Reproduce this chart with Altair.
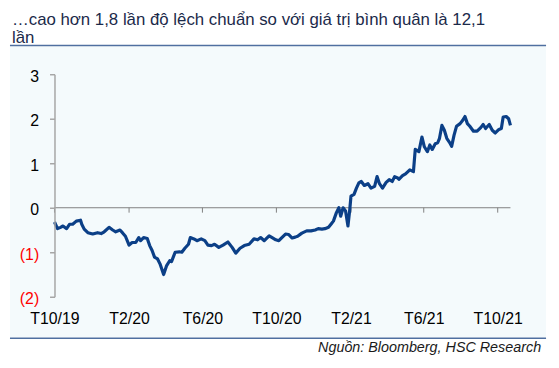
import altair as alt
import pandas as pd

# ---------------- data ----------------
dates = [
    "2019-10-01", "2019-10-06", "2019-10-11", "2019-10-15", "2019-10-21", "2019-10-26", "2019-10-31",
    "2019-11-06", "2019-11-13", "2019-11-15", "2019-11-19", "2019-11-25", "2019-12-03", "2019-12-11",
    "2019-12-17", "2019-12-22", "2019-12-30",
    "2020-01-05", "2020-01-10", "2020-01-17", "2020-01-21", "2020-01-26", "2020-02-01", "2020-02-06",
    "2020-02-12", "2020-02-17", "2020-02-20", "2020-02-25", "2020-03-02", "2020-03-06", "2020-03-10",
    "2020-03-14", "2020-03-19", "2020-03-23", "2020-03-29", "2020-04-03", "2020-04-08", "2020-04-11",
    "2020-04-17", "2020-04-24", "2020-04-28", "2020-05-03", "2020-05-09", "2020-05-12", "2020-05-18",
    "2020-05-23", "2020-05-30", "2020-06-05", "2020-06-10", "2020-06-16", "2020-06-21", "2020-06-28",
    "2020-07-05", "2020-07-13", "2020-07-20", "2020-07-26", "2020-08-02", "2020-08-09", "2020-08-17",
    "2020-08-25", "2020-08-31", "2020-09-05", "2020-09-11", "2020-09-19", "2020-09-24", "2020-09-30",
    "2020-10-05", "2020-10-10", "2020-10-16", "2020-10-21", "2020-10-27", "2020-11-01", "2020-11-05",
    "2020-11-12", "2020-11-20", "2020-11-27", "2020-12-04", "2020-12-09", "2020-12-15", "2020-12-20",
    "2020-12-26", "2020-12-30",
    "2021-01-03", "2021-01-08", "2021-01-12", "2021-01-15", "2021-01-19", "2021-01-23", "2021-01-27",
    "2021-01-30", "2021-02-01", "2021-02-06", "2021-02-10", "2021-02-14", "2021-02-18", "2021-02-23",
    "2021-03-01", "2021-03-06", "2021-03-12", "2021-03-16", "2021-03-20", "2021-03-25", "2021-03-31",
    "2021-04-05", "2021-04-10", "2021-04-14", "2021-04-19", "2021-04-21", "2021-04-27", "2021-05-02",
    "2021-05-09", "2021-05-15", "2021-05-18", "2021-05-24", "2021-05-29", "2021-06-02", "2021-06-07",
    "2021-06-11", "2021-06-15", "2021-06-20", "2021-06-24", "2021-06-27", "2021-07-01", "2021-07-05",
    "2021-07-09", "2021-07-14", "2021-07-17", "2021-07-21", "2021-07-25", "2021-07-31", "2021-08-04",
    "2021-08-08", "2021-08-12", "2021-08-16", "2021-08-22", "2021-08-28", "2021-09-03", "2021-09-07",
    "2021-09-11", "2021-09-17", "2021-09-22", "2021-09-27", "2021-10-03", "2021-10-07", "2021-10-10",
    "2021-10-15", "2021-10-19", "2021-10-22",
]

values = [
    -0.32, -0.47, -0.44, -0.41, -0.47, -0.37, -0.37,
    -0.30, -0.28, -0.37, -0.48, -0.56, -0.59, -0.56,
    -0.58, -0.54, -0.44,
    -0.50, -0.54, -0.50, -0.56, -0.64, -0.84, -0.78,
    -0.78, -0.67, -0.74, -0.67, -0.69, -0.85, -0.96,
    -1.11, -1.15, -1.26, -1.50, -1.30, -1.19, -1.21,
    -1.00, -0.99, -1.00, -0.91, -0.82, -0.67, -0.70,
    -0.74, -0.70, -0.74, -0.84, -0.85, -0.82, -0.89,
    -0.84, -0.77, -0.89, -1.02, -0.91, -0.85, -0.82,
    -0.70, -0.72, -0.67, -0.74, -0.63, -0.67, -0.72,
    -0.74, -0.67, -0.59, -0.60, -0.68, -0.66, -0.64,
    -0.57, -0.52, -0.52, -0.50, -0.47, -0.48, -0.47,
    -0.44, -0.37,
    -0.30, -0.11, 0.00, -0.19, 0.00, -0.07, -0.41,
    -0.04, 0.26, 0.30, 0.44, 0.56, 0.59, 0.50,
    0.54, 0.44, 0.48, 0.70, 0.54, 0.44, 0.57,
    0.63, 0.59, 0.70, 0.67, 0.64, 0.72, 0.76,
    0.85, 0.81, 1.31, 1.26, 1.59, 1.37, 1.26,
    1.41, 1.31, 1.44, 1.46, 1.56, 1.85, 1.74,
    1.56, 1.46, 1.38, 1.63, 1.83, 1.89, 1.96,
    2.05, 1.89, 1.83, 1.72, 1.72, 1.80, 1.87,
    1.78, 1.87, 1.74, 1.68, 1.76, 1.78, 2.04,
    2.05, 2.00, 1.85,
]

tick_dates = ["2019-10-01", "2020-02-01", "2020-06-01", "2020-10-01",
              "2021-02-01", "2021-06-01", "2021-10-01"]
y_ticks = [-2, -1, 0, 1, 2, 3]
x_range = ["2019-10-01", "2021-10-22"]

title_lines = ["…cao hơn 1,8 lần độ lệch chuẩn so với giá trị bình quân là 12,1", "lần"]
source_text = "Nguồn: Bloomberg, HSC Research"

assert len(dates) == len(values)

# ---------------- chart ----------------
FONT = "Liberation Sans"
LINE_COLOR = "#0B3F87"
PANEL = "#F4FAFC"
SEP = "#4F6FA0"
TITLE_COLOR = "#1B2A4A"


def dt(s):
    return alt.DateTime(year=int(s[:4]), month=int(s[5:7]), date=int(s[8:10]), utc=True)


df = pd.DataFrame({"date": dates, "value": values})
ticks_df = pd.DataFrame({"date": tick_dates})
one = pd.DataFrame({"a": [0]})

xscale = alt.Scale(type="utc", domain=[dt(x_range[0]), dt(x_range[1])], nice=False)
yscale = alt.Scale(domain=[-2, 3], nice=False)

panel = alt.Chart(one).mark_rect(color=PANEL).encode(
    x=alt.value(-45), x2=alt.value(497), y=alt.value(-28), y2=alt.value(266)
)
sep_top = alt.Chart(one).mark_rule(color=SEP, strokeWidth=1.5).encode(
    x=alt.value(-45), x2=alt.value(497), y=alt.value(-29)
)
sep_bottom = alt.Chart(one).mark_rule(color=SEP, strokeWidth=1.5).encode(
    x=alt.value(-45), x2=alt.value(497), y=alt.value(267)
)

zero_line = alt.Chart(one).mark_rule(color="#808080", strokeWidth=1).encode(
    y=alt.datum(0, scale=yscale)
)
zero_ticks = alt.Chart(ticks_df).mark_rule(color="#808080", strokeWidth=1).encode(
    x=alt.X("date:T", scale=xscale),
    y=alt.datum(0),
    y2=alt.datum(-0.11),
)

line = alt.Chart(df).mark_line(color=LINE_COLOR, strokeWidth=3.2, strokeJoin="round").encode(
    x=alt.X(
        "date:T",
        scale=xscale,
        axis=alt.Axis(
            values=[dt(s) for s in tick_dates],
            domain=False, ticks=False, grid=False, title=None, zindex=1,
            labelPadding=14, labelFont=FONT, labelFontSize=16, labelColor="#000000",
            labelFlush=False, labelOverlap=False,
            labelExpr="'T' + (utcmonth(datum.value) + 1) + '/' + utcFormat(datum.value, '%y')",
        ),
    ),
    y=alt.Y(
        "value:Q",
        scale=yscale,
        axis=alt.Axis(
            values=y_ticks, grid=False, title=None, zindex=1,
            domainColor="#A6A6A6", domainWidth=1.5,
            tickColor="#A6A6A6", tickSize=5, tickWidth=1.5,
            labelPadding=11, labelOffset=2, labelFont=FONT, labelFontSize=16,
            labelColor={"condition": {"test": "datum.value < 0", "value": "#FF0000"}, "value": "#000000"},
            labelExpr="datum.value < 0 ? '(' + abs(datum.value) + ')' : datum.label",
        ),
    ),
)

title1 = alt.Chart(one).mark_text(
    align="left", baseline="alphabetic", font=FONT, fontSize=17, color=TITLE_COLOR
).encode(x=alt.value(-43), y=alt.value(-49.5), text=alt.value(title_lines[0]))
title2 = alt.Chart(one).mark_text(
    align="left", baseline="alphabetic", font=FONT, fontSize=17, color=TITLE_COLOR
).encode(x=alt.value(-43), y=alt.value(-31.5), text=alt.value(title_lines[1]))
source = alt.Chart(one).mark_text(
    align="right", baseline="alphabetic", font=FONT, fontSize=14.5, fontStyle="italic", color="#1A1A1A"
).encode(x=alt.value(492), y=alt.value(281), text=alt.value(source_text))

chart = alt.layer(
    panel, sep_top, sep_bottom, zero_line, zero_ticks, line, title1, title2, source
).properties(
    width=461, height=225,
    autosize=alt.AutoSizeParams(type="none"),
    padding={"left": 47, "top": 65, "right": 41, "bottom": 64},
    background="#FFFFFF",
).configure_view(stroke=None)

chart.save("out.html", embed_options={"renderer": "svg", "actions": False})
